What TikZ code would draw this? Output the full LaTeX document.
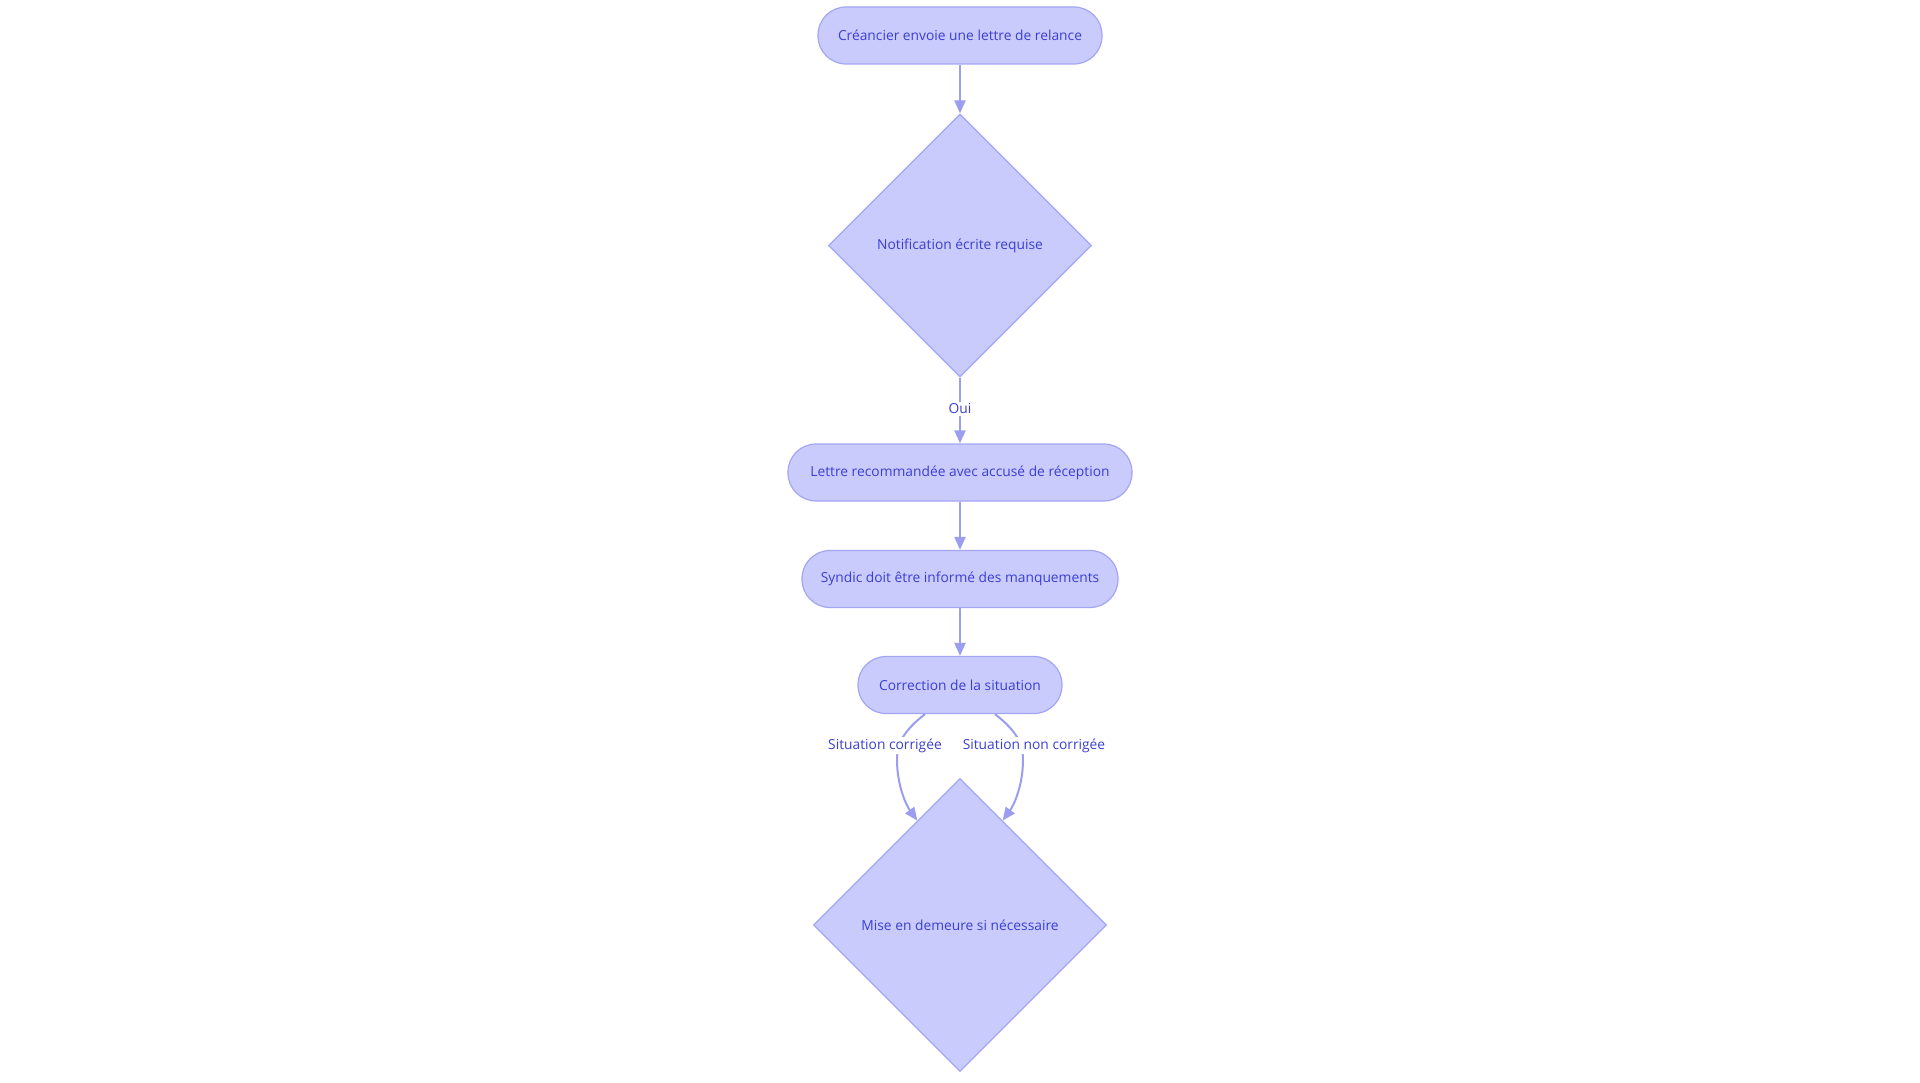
\documentclass[tikz,border=0pt]{standalone}
\usepackage{fontspec}
\setmainfont{Open Sans}
\usetikzlibrary{shapes.geometric,arrows.meta,calc}
\definecolor{nfill}{HTML}{C9CBFC}
\definecolor{nstroke}{HTML}{A3A6F2}
\definecolor{ntext}{HTML}{3B3FD1}
\definecolor{edgec}{HTML}{9B9EF0}
\tikzset{
  pill/.style={draw=nstroke, fill=nfill, line width=1.2pt, rectangle, rounded corners=28pt,
    minimum height=57pt, inner sep=0pt, text=ntext, font=\fontsize{13.8}{16}\selectfont},
  decision/.style={draw=nstroke, fill=nfill, line width=1.2pt, diamond, aspect=1, inner sep=0pt,
    text=ntext, font=\fontsize{13.8}{16}\selectfont},
  edge/.style={draw=edgec, line width=2pt, -{Triangle[length=13pt,width=11pt]}},
  elabel/.style={fill=white, inner sep=2pt, text=ntext, font=\fontsize{13.8}{16}\selectfont}
}
\begin{document}
\begin{tikzpicture}[x=1pt,y=-1pt]
\useasboundingbox[fill=white] (0,0) rectangle (1920,1083);
\node[pill, minimum width=284pt] (n1) at (960,35.5) {Créancier envoie une lettre de relance};
\node[decision, minimum width=263pt, minimum height=263pt] (d1) at (960,245.5) {Notification écrite requise};
\node[pill, minimum width=344pt] (n3) at (960,472.5) {Lettre recommandée avec accusé de réception};
\node[pill, minimum width=316pt] (n4) at (960,579) {Syndic doit être informé des manquements};
\node[pill, minimum width=204pt] (n5) at (960,685) {Correction de la situation};
\node[decision, minimum width=293pt, minimum height=293pt] (d2) at (960,925) {Mise en demeure si nécessaire};

\draw[edge] (n1.south) -- (d1.north);
\draw[edge] (d1.south) -- (n3.north);
\draw[edge] (n3.south) -- (n4.north);
\draw[edge] (n4.south) -- (n5.north);

\coordinate (l1) at ($(n5.south)+(-35,0)$);
\coordinate (r1) at ($(n5.south)+(35,0)$);
\coordinate (l2) at ($(d2.north)!0.29!(d2.west)$);
\coordinate (r2) at ($(d2.north)!0.29!(d2.east)$);
\draw[edge] (l1) .. controls (902,732) and (897,745) .. (897,760) .. controls (897,785) and (906,805) .. (l2);
\draw[edge] (r1) .. controls (1018,732) and (1023,745) .. (1023,760) .. controls (1023,785) and (1014,805) .. (r2);

\node[elabel] (lo) at (960,409) {Oui};
\node[elabel] (lc) at (885,745.5) {Situation corrigée};
\node[elabel] (lnc) at (1034,745.5) {Situation non corrigée};
\end{tikzpicture}
\end{document}
